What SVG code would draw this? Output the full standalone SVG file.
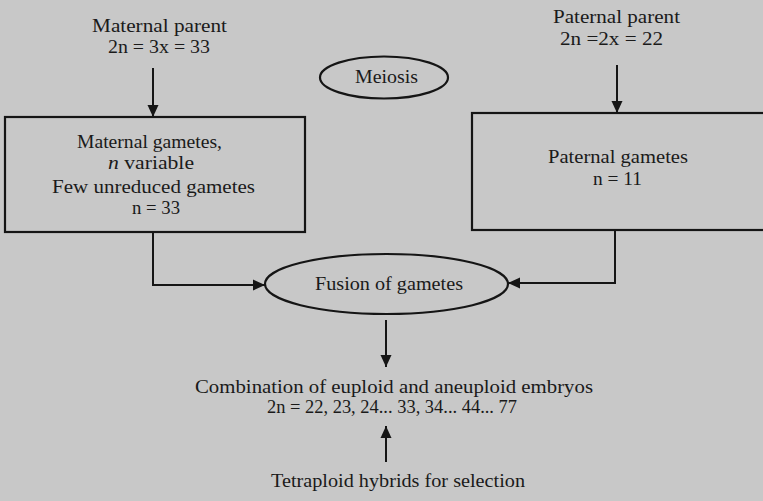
<svg xmlns="http://www.w3.org/2000/svg" width="763" height="501" viewBox="0 0 763 501">
<style>
  text { font-family: "Liberation Serif", "Times New Roman", serif; font-size: 19px; fill: #1a1a1a; text-anchor: middle; }
  .box { fill: none; stroke: #151515; stroke-width: 2.2; }
  .conn { fill: none; stroke: #151515; stroke-width: 2; }
</style>
<defs>
  <marker id="ah" markerWidth="12" markerHeight="12" viewBox="0 0 12 12" refX="12" refY="6" orient="auto" markerUnits="userSpaceOnUse">
    <path d="M0,0.5 L12,6 L0,11.5 z" fill="#151515"/>
  </marker>
</defs>
<rect x="0" y="0" width="763" height="501" fill="#c8c8c8"/>

<g id="maternal-parent">
  <text x="159.5" y="32" textLength="135" lengthAdjust="spacingAndGlyphs">Maternal parent</text>
  <text x="159" y="53" textLength="102" lengthAdjust="spacingAndGlyphs">2n = 3x = 33</text>
</g>
<g id="paternal-parent">
  <text x="616.5" y="23" textLength="127" lengthAdjust="spacingAndGlyphs">Paternal parent</text>
  <text x="611.5" y="45" textLength="103" lengthAdjust="spacingAndGlyphs">2n =2x = 22</text>
</g>
<g id="meiosis">
  <ellipse cx="384" cy="77.5" rx="64" ry="21" class="box"/>
  <text x="386.5" y="83" textLength="63" lengthAdjust="spacingAndGlyphs">Meiosis</text>
</g>
<g id="maternal-gametes">
  <rect x="5" y="117" width="300" height="115" class="box"/>
  <text x="149.5" y="148" textLength="145" lengthAdjust="spacingAndGlyphs">Maternal gametes,</text>
  <text x="151" y="169" textLength="86" lengthAdjust="spacingAndGlyphs"><tspan font-style="italic">n</tspan> variable</text>
  <text x="153.5" y="193" textLength="203" lengthAdjust="spacingAndGlyphs">Few unreduced gametes</text>
  <text x="156" y="214" textLength="48" lengthAdjust="spacingAndGlyphs">n = 33</text>
</g>
<g id="paternal-gametes">
  <rect x="472" y="113" width="300" height="117" class="box"/>
  <text x="618" y="163" textLength="140" lengthAdjust="spacingAndGlyphs">Paternal gametes</text>
  <text x="617.5" y="185" textLength="49" lengthAdjust="spacingAndGlyphs">n = 11</text>
</g>
<g id="fusion">
  <ellipse cx="386.5" cy="284" rx="121.5" ry="30" class="box"/>
  <text x="389" y="290" textLength="148" lengthAdjust="spacingAndGlyphs">Fusion of gametes</text>
</g>
<g id="combination">
  <text x="394" y="393" textLength="398" lengthAdjust="spacingAndGlyphs">Combination of euploid and aneuploid embryos</text>
  <text x="392" y="413" textLength="250" lengthAdjust="spacingAndGlyphs">2n = 22, 23, 24... 33, 34... 44... 77</text>
</g>
<g id="tetraploid">
  <text x="398" y="487" textLength="254" lengthAdjust="spacingAndGlyphs">Tetraploid hybrids for selection</text>
</g>

<g id="connectors">
  <line x1="153" y1="68" x2="153" y2="117" class="conn" marker-end="url(#ah)"/>
  <line x1="617" y1="65" x2="617" y2="113" class="conn" marker-end="url(#ah)"/>
  <polyline points="153,232 153,285 265,285" class="conn" marker-end="url(#ah)"/>
  <polyline points="615,230 615,283 508,283" class="conn" marker-end="url(#ah)"/>
  <line x1="386" y1="320" x2="386" y2="367" class="conn" marker-end="url(#ah)"/>
  <line x1="386" y1="462" x2="386" y2="426" class="conn" marker-end="url(#ah)"/>
</g>
</svg>
